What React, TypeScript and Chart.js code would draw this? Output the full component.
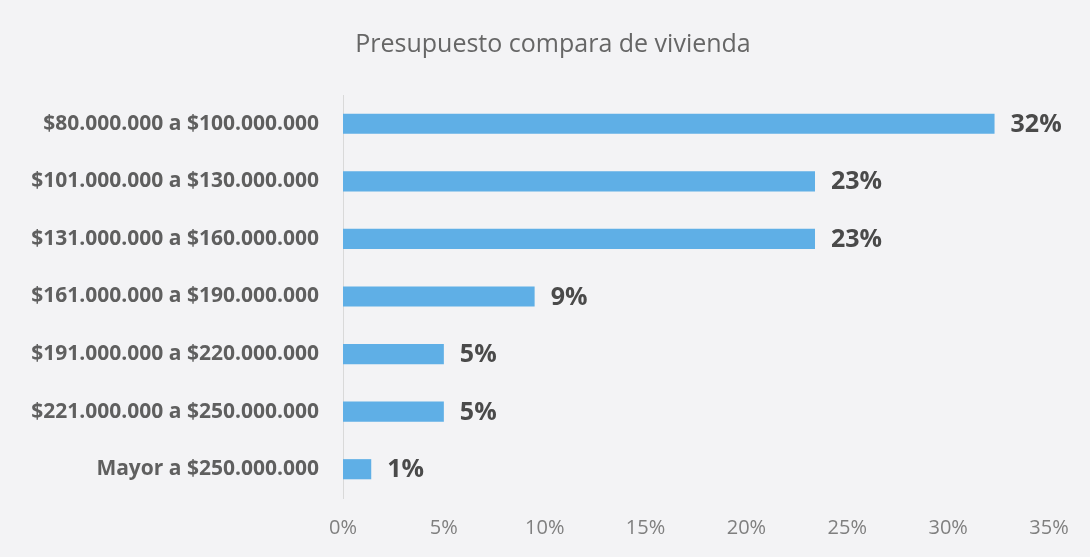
import React, { useEffect, useRef } from "react";
import { Chart, registerables } from "chart.js";

Chart.register(...registerables);

const TITLE = "Presupuesto compara de vivienda";
const categories = [
  "$80.000.000 a $100.000.000",
  "$101.000.000 a $130.000.000",
  "$131.000.000 a $160.000.000",
  "$161.000.000 a $190.000.000",
  "$191.000.000 a $220.000.000",
  "$221.000.000 a $250.000.000",
  "Mayor a $250.000.000",
];
const values = [32.3, 23.4, 23.4, 9.5, 5.0, 5.0, 1.4];
const valueLabels = ["32%", "23%", "23%", "9%", "5%", "5%", "1%"];
const xTicks = [0, 5, 10, 15, 20, 25, 30, 35];

const FONT = "'Open Sans', sans-serif";

export default function App() {
  const ref = useRef<HTMLCanvasElement>(null);

  useEffect(() => {
    document.body.style.margin = "0";
    document.body.style.background = "#f3f3f5";
    const canvas = ref.current!;
    const bg = {
      id: "bg",
      beforeDraw(c: any) {
        const ctx = c.ctx;
        ctx.save();
        ctx.fillStyle = "#f3f3f5";
        ctx.fillRect(0, 0, c.width, c.height);
        ctx.font = `normal 25px ${FONT}`;
        ctx.fillStyle = "#666666";
        ctx.textAlign = "center";
        ctx.textBaseline = "middle";
        ctx.fillText(TITLE, 553, 45);
        ctx.restore();
      },
    };
    const dataLabels = {
      id: "dataLabels",
      afterDatasetsDraw(c: any) {
        const ctx = c.ctx;
        const meta = c.getDatasetMeta(0);
        ctx.save();
        ctx.font = `bold 25px ${FONT}`;
        ctx.fillStyle = "#4a4a4a";
        ctx.textAlign = "left";
        ctx.textBaseline = "middle";
        meta.data.forEach((bar: any, i: number) => {
          ctx.fillText(valueLabels[i], bar.x + 16, bar.y + 1);
        });
        ctx.restore();
      },
    };
    const chart = new Chart(canvas, {
      type: "bar",
      data: {
        labels: categories,
        datasets: [
          {
            data: values,
            backgroundColor: "#5fafe6",
            barPercentage: 0.35,
            categoryPercentage: 1,
          },
        ],
      },
      options: {
        indexAxis: "y",
        animation: false,
        responsive: false,
        layout: { padding: { top: 95, right: 41, bottom: 0, left: 0 } },
        plugins: {
          legend: { display: false },
          tooltip: { enabled: false },
          title: { display: false },
        },
        scales: {
          x: {
            min: 0,
            max: 35,
            afterBuildTicks(s: any) {
              s.ticks = xTicks.map((v) => ({ value: v }));
            },
            afterFit(s: any) {
              s.height = 59;
            },
            grid: { display: false, drawTicks: false },
            border: { display: false },
            ticks: {
              padding: 18,
              color: "#7f7f7f",
              font: { family: FONT, size: 20 },
              callback: (v: any) => `${v}%`,
            },
          },
          y: {
            afterFit(s: any) {
              s.width = 343;
            },
            grid: { display: false, drawTicks: false },
            border: { display: true, color: "#d9d9d9", width: 1 },
            ticks: {
              padding: 24,
              color: "#5f5f5f",
              font: { family: FONT, size: 21, weight: "bold" },
            },
          },
        },
      },
      plugins: [bg, dataLabels],
    });
    return () => chart.destroy();
  }, []);

  return <canvas ref={ref} width={1090} height={557} style={{ display: "block" }} />;
}
